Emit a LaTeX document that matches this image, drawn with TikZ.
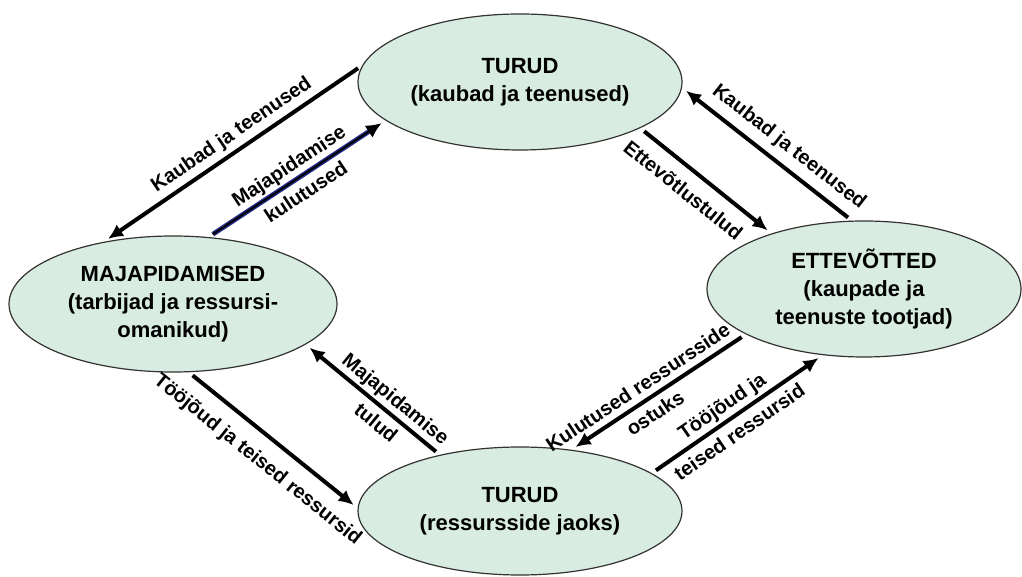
\documentclass[tikz,border=0pt]{standalone}
\usepackage{fontspec}
\setmainfont{Liberation Sans}
\usetikzlibrary{shapes.geometric,arrows.meta}
\definecolor{sectorfill}{RGB}{216,236,225}
\definecolor{navyline}{RGB}{35,45,140}

\begin{document}
\begin{tikzpicture}[
				x = 0.5pt, y = 0.5pt,
				sector/.style = {
					shape = ellipse,
					draw = black!80,
					line width = 0.6pt,
					fill = sectorfill,
					inner sep = 0pt,
					align = center,
					font = \fontsize{11}{14}\selectfont\bfseries,
				},
				flow/.style = {
					line width = 2pt,
					-{Latex[length=7.5pt, width=7pt]},
					shorten <=2.5pt,
					shorten >=2.5pt,
				},
				lbl/.style = {
					sloped,
					inner sep = 1pt,
					align = center,
					font = \fontsize{10}{15.5}\selectfont\bfseries,
				},
		]
			\useasboundingbox (0, 0) rectangle (1022, 577);

			\draw (520, 495) node (tk) [sector, minimum width = 162pt, minimum height = 68pt] {TURUD\\(kaubad ja teenused)};
			\draw (173, 273) node (mj) [sector, minimum width = 164pt, minimum height = 68pt] {MAJAPIDAMISED\\(tarbijad ja ressursi-\\omanikud)};
			\draw (864, 288) node (et) [sector, minimum width = 157pt, minimum height = 68pt] {ETTEVÕTTED\\(kaupade ja\\teenuste tootjad)};
			\draw (520, 66) node (tr) [sector, minimum width = 162pt, minimum height = 64pt] {TURUD\\(ressursside jaoks)};

			\draw [flow] (tk.174) -- (mj.138) node [lbl, pos = 0.47, above = 1.3pt] {Kaubad ja teenused};
			\draw [flow, line width = 1pt, preaction = {draw = navyline, line width = 2.4pt}] (mj.62) -- (tk.196) node [lbl, pos = 0.5] {Majapidamise\\kulutused};
			\draw [flow] (tk.339) -- (et.149) node [lbl, pos = 0.43, below = 5pt] {Ettevõtlustulud};
			\draw [flow] (et.100) -- (tk.358) node [lbl, pos = 0.44, above = 2.8pt] {Kaubad ja teenused};
			\draw [flow] (et.201) -- (tr.50) node [lbl, pos = 0.57] {Kulutused ressursside\\ostuks};
			\draw [flow] (tr.16) -- (et.238) node [lbl, pos = 0.46] {Tööjõud ja\\teised ressursid};
			\draw [flow] (tr.145) -- (mj.343) node [lbl, pos = 0.4] {Majapidamise\\tulud};
			\draw [flow] (mj.283) -- (tr.179) node [lbl, pos = 0.5, below = 6pt] {Tööjõud ja teised ressursid};
		\end{tikzpicture}
\end{document}
